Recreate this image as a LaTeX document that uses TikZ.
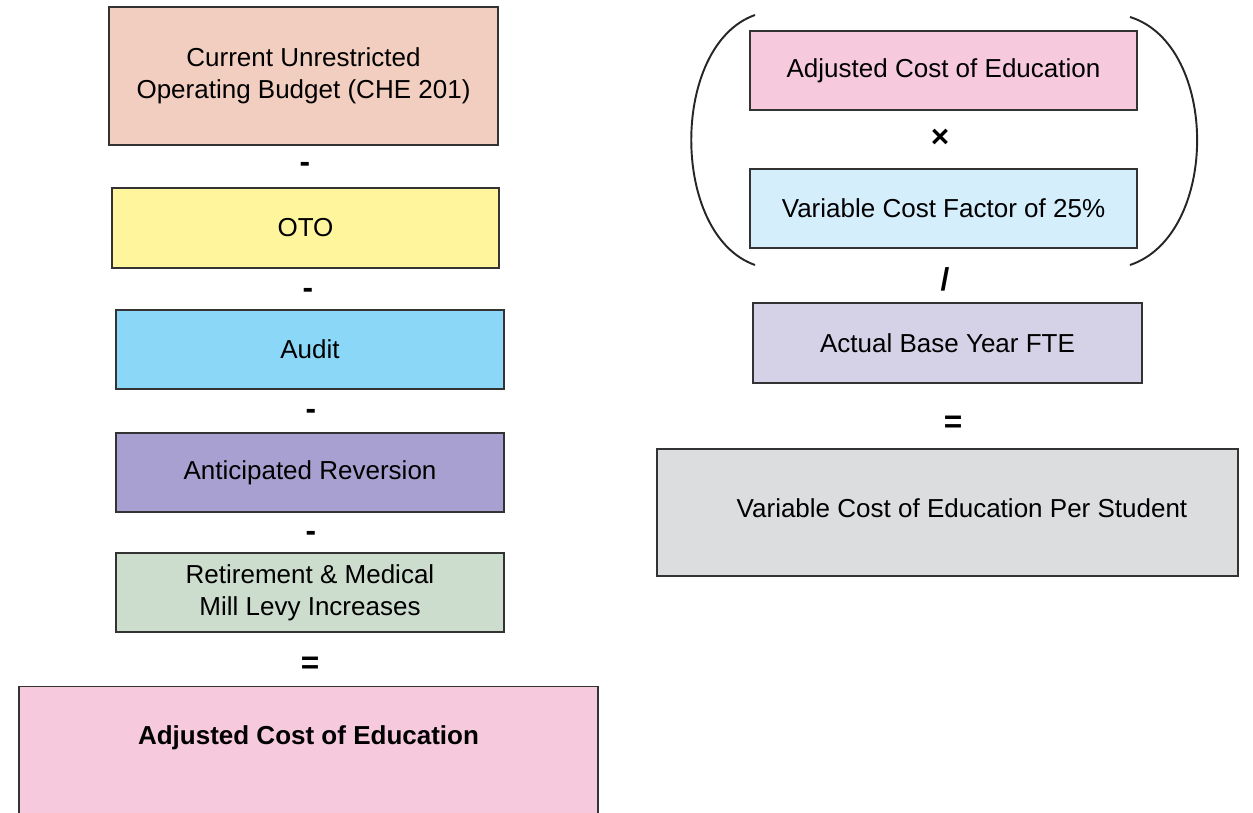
\documentclass[tikz,border=0pt]{standalone}
\usepackage{fontspec}
\setmainfont{Liberation Sans}
\usepackage{tikz}
\definecolor{edgegray}{HTML}{333333}
\definecolor{budgetpeach}{HTML}{F2CEC0}
\definecolor{otoyellow}{HTML}{FFF59D}
\definecolor{auditblue}{HTML}{8AD7F7}
\definecolor{reversionlav}{HTML}{A7A0D1}
\definecolor{millgreen}{HTML}{CCDCCD}
\definecolor{adjpink}{HTML}{F7C9DD}
\definecolor{factorblue}{HTML}{D4EEFC}
\definecolor{ftelilac}{HTML}{D5D1E7}
\definecolor{studentgray}{HTML}{DCDDDF}
\newcommand{\termfont}{\fontsize{14.8}{18.2}\selectfont}
\newcommand{\opfont}{\fontsize{18}{20}\selectfont\bfseries}
\tikzset{
  termbox/.style = {draw=edgegray,line width=0.75pt,align=center,font=\termfont,inner sep=2pt},
  opsign/.style  = {font=\opfont,inner sep=0pt},
  paren/.style   = {draw=black!85,line width=1.1pt}
}

\begin{document}
\begin{tikzpicture}
  \clip (0,0) rectangle (25.06,-16.26);
  % left column
  \node[termbox,fill=budgetpeach,minimum width=7.78cm,minimum height=2.76cm] (budget) at (6.07,-1.52)
    {Current Unrestricted\\Operating Budget (CHE 201)};
  \node[opsign] (minusA) at (6.10,-3.34) {-};
  \node[termbox,fill=otoyellow,minimum width=7.74cm,minimum height=1.60cm] (oto) at (6.11,-4.56) {OTO};
  \node[opsign] (minusB) at (6.16,-5.86) {-};
  \node[termbox,fill=auditblue,minimum width=7.76cm,minimum height=1.58cm] (audit) at (6.20,-6.99) {Audit};
  \node[opsign] (minusC) at (6.22,-8.28) {-};
  \node[termbox,fill=reversionlav,minimum width=7.76cm,minimum height=1.58cm] (reversion) at (6.20,-9.45)
    {Anticipated Reversion};
  \node[opsign] (minusD) at (6.22,-10.72) {-};
  \node[termbox,fill=millgreen,minimum width=7.76cm,minimum height=1.58cm] (millevy) at (6.20,-11.85)
    {Retirement \& Medical\\Mill Levy Increases};
  \node[opsign] (equalsL) at (6.20,-13.30) {=};
  \node[termbox,fill=adjpink,minimum width=11.58cm,minimum height=3.2cm,anchor=north] (adjusted) at (6.17,-13.72) {};
  \node[font=\termfont\bfseries] (adjtext) at (6.17,-14.76) {Adjusted Cost of Education};

  % right column
  \draw[paren] (15.10,-0.30) .. controls (13.40,-0.90) and (13.40,-4.70) .. (15.10,-5.30);
  \draw[paren] (22.60,-0.34) .. controls (24.39,-0.90) and (24.39,-4.70) .. (22.60,-5.30);
  \node[termbox,fill=adjpink,minimum width=7.74cm,minimum height=1.58cm] (adjcost) at (18.87,-1.41)
    {Adjusted Cost of Education};
  \node[opsign] (times) at (18.80,-2.76) {×};
  \node[termbox,fill=factorblue,minimum width=7.74cm,minimum height=1.58cm] (factor) at (18.87,-4.17)
    {Variable Cost Factor of 25\%};
  \node[opsign] (divide) at (18.90,-5.58) {/};
  \node[termbox,fill=ftelilac,minimum width=7.78cm,minimum height=1.60cm] (fte) at (18.95,-6.86)
    {Actual Base Year FTE};
  \node[opsign] (equalsR) at (19.06,-8.48) {=};
  \node[termbox,fill=studentgray,minimum width=11.62cm,minimum height=2.54cm] (perstudent) at (18.95,-10.25) {};
  \node[font=\termfont] (perstudenttext) at (19.24,-10.16) {Variable Cost of Education Per Student};
\end{tikzpicture}
\end{document}
